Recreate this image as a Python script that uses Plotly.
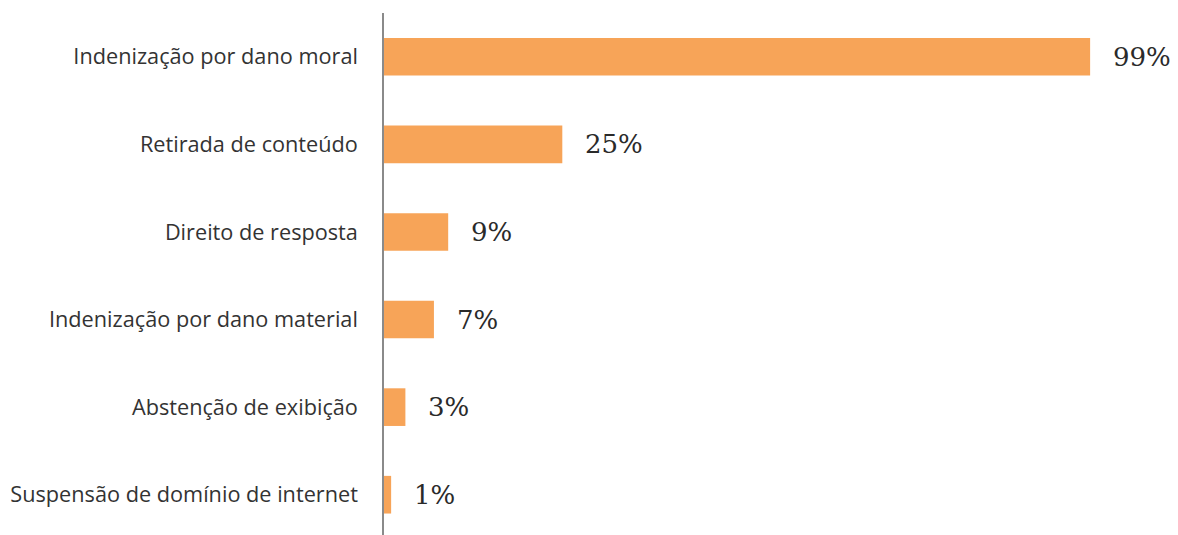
import plotly.graph_objects as go

categories = [
    "Indenização por dano moral",
    "Retirada de conteúdo",
    "Direito de resposta",
    "Indenização por dano material",
    "Abstenção de exibição",
    "Suspensão de domínio de internet",
]
values = [99, 25, 9, 7, 3, 1]
value_labels = ["99%", "25%", "9%", "7%", "3%", "1%"]

bar_color = "#F7A458"

fig = go.Figure()
fig.add_trace(go.Bar(
    y=categories,
    x=values,
    orientation="h",
    marker=dict(color=bar_color, line=dict(width=0)),
    width=0.43,
    hoverinfo="skip",
))

for cat, v, lab in zip(categories, values, value_labels):
    fig.add_annotation(
        x=v, y=cat, text=lab, showarrow=False,
        xanchor="left", yanchor="middle", xshift=21,
        font=dict(family="DejaVu Serif", size=26, color="#2a2a2a"),
    )

fig.update_layout(
    width=1178, height=535,
    margin=dict(l=384, r=8, t=13, b=0),
    plot_bgcolor="white", paper_bgcolor="white",
    showlegend=False,
    bargap=0.57,
)
fig.update_xaxes(
    range=[0, 110.2], showgrid=False, zeroline=False,
    showticklabels=False, showline=False, ticks="",
)
fig.update_yaxes(
    categoryorder="array", categoryarray=categories,
    range=[5.46, -0.5], autorange=False,
    showgrid=False, zeroline=False,
    showline=True, linecolor="#8a8a8a", linewidth=1.5,
    ticks="", ticklabelstandoff=20,
    tickfont=dict(family="Open Sans", size=21.7, color="#333333"),
)

fig.write_html("out.html")
